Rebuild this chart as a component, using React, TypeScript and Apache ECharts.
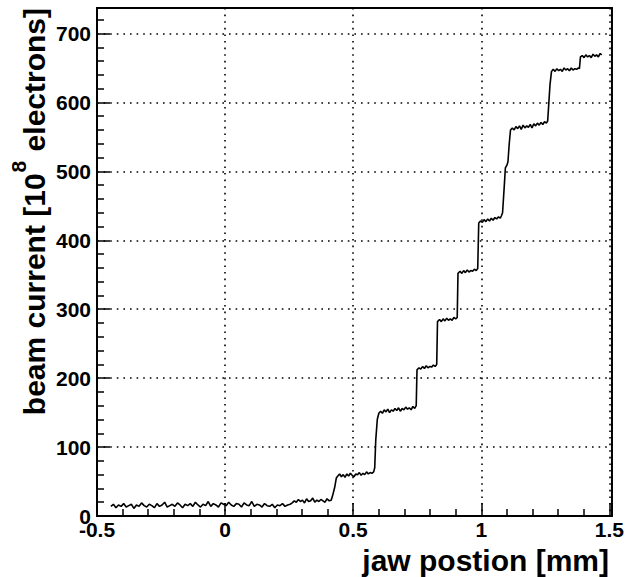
import { useEffect, useRef } from "react";
import * as echarts from "echarts";

// Jaw scan: beam current versus jaw position.
const jawPosition = [
  -0.446, -0.436, -0.426, -0.416, -0.406, -0.396, -0.386, -0.376, -0.366, -0.356,
  -0.346, -0.336, -0.326, -0.316, -0.306, -0.296, -0.286, -0.276, -0.266, -0.256,
  -0.246, -0.236, -0.226, -0.216, -0.206, -0.196, -0.186, -0.176, -0.166, -0.156,
  -0.146, -0.136, -0.126, -0.116, -0.106, -0.096, -0.086, -0.076, -0.066, -0.056,
  -0.046, -0.036, -0.026, -0.016, -0.006, 0.004, 0.014, 0.024, 0.034, 0.044,
  0.054, 0.064, 0.074, 0.084, 0.094, 0.104, 0.114, 0.124, 0.134, 0.144,
  0.154, 0.164, 0.174, 0.184, 0.194, 0.204, 0.214, 0.224, 0.234, 0.244,
  0.254,
  0.262, 0.27, 0.278, 0.286, 0.294, 0.302, 0.31, 0.318, 0.326, 0.334,
  0.342, 0.35, 0.358, 0.366, 0.374, 0.382, 0.39, 0.398, 0.406, 0.414,
  0.42, 0.428, 0.434, 0.44,
  0.447, 0.454, 0.461, 0.468, 0.475, 0.482, 0.489, 0.496, 0.503, 0.51,
  0.517, 0.524, 0.531, 0.538, 0.545, 0.552, 0.559, 0.566, 0.573, 0.58,
  0.584, 0.588, 0.594, 0.6,
  0.607, 0.614, 0.621, 0.628, 0.635, 0.642, 0.649, 0.656, 0.663, 0.67,
  0.677, 0.684, 0.691, 0.698, 0.705, 0.712, 0.719, 0.726, 0.733, 0.74, 0.746,
  0.749,
  0.757, 0.764, 0.771, 0.778, 0.785, 0.792, 0.799, 0.806, 0.813, 0.82, 0.826,
  0.829,
  0.837, 0.844, 0.851, 0.858, 0.865, 0.872, 0.879, 0.886, 0.893, 0.9, 0.906,
  0.909,
  0.917, 0.924, 0.931, 0.938, 0.945, 0.952, 0.959, 0.966, 0.973, 0.98, 0.986,
  0.99,
  0.997, 1.004, 1.011, 1.018, 1.025, 1.032, 1.039, 1.046, 1.053, 1.06, 1.067, 1.074, 1.079,
  1.083, 1.089, 1.094, 1.1, 1.104, 1.109, 1.114,
  1.121, 1.128, 1.135, 1.142, 1.149, 1.156, 1.163, 1.17, 1.177, 1.184,
  1.191, 1.198, 1.205, 1.212, 1.219, 1.226, 1.233, 1.24, 1.247, 1.254, 1.259,
  1.262, 1.268, 1.274,
  1.281, 1.288, 1.295, 1.302, 1.309, 1.316, 1.323, 1.33, 1.337, 1.344,
  1.351, 1.358, 1.365, 1.372, 1.379, 1.383,
  1.387,
  1.394, 1.401, 1.408, 1.415, 1.422, 1.429, 1.436, 1.443, 1.45, 1.457, 1.464, 1.47,
];

// beam current in units of 10^8 electrons
const beamCurrent = [
  14, 17, 12, 16, 14, 18, 13, 15, 17, 11,
  16, 14, 19, 15, 13, 17, 15, 12, 18, 14,
  16, 20, 13, 15, 17, 14, 19, 16, 12, 17,
  15, 18, 14, 20, 16, 13, 17, 15, 21, 14,
  18, 16, 13, 19, 17, 15, 20, 16, 14, 18,
  17, 13, 19, 16, 15, 21, 14, 17, 16, 13,
  18, 15, 14, 17, 12, 16, 15, 18, 14, 16,
  17,
  19, 22, 20, 24, 21, 23, 19, 25, 21, 22,
  26, 20, 23, 21, 24, 22, 20, 25, 22, 23,
  30, 42, 55, 58,
  61, 57, 60, 56, 61, 58, 62, 59, 57, 61,
  60, 63, 59, 62, 60, 64, 61, 63, 62, 64,
  70, 110, 140, 149,
  152, 149, 154, 151, 155, 150, 154, 152, 156, 153,
  157, 152, 156, 154, 158, 155, 157, 154, 159, 156, 160,
  212,
  215, 213, 217, 214, 218, 215, 217, 216, 219, 217, 220,
  282,
  285, 282, 286, 283, 287, 284, 286, 284, 288, 286, 288,
  352,
  355, 352, 356, 353, 357, 354, 356, 355, 358, 356, 359,
  425,
  428, 426, 430, 427, 431, 428, 432, 429, 433, 431, 434, 432, 436,
  440, 475, 505, 509, 514, 540, 560,
  563, 560, 565, 562, 566, 561, 567, 563, 566, 564,
  568, 563, 569, 566, 570, 567, 571, 568, 572, 570, 573,
  590, 625, 645,
  648, 645, 649, 646, 648, 645, 650, 647, 649, 646,
  650, 647, 649, 648, 650, 649,
  666,
  668, 665, 669, 666, 668, 665, 670, 667, 669, 666, 671, 669,
];

const xMin = -0.5;
const xMax = 1.51;
const xStep = 0.5;
const yMin = 0;
const yMax = 737;
const yStep = 100;

const xTitle = "jaw postion [mm]";
const yTitleMain = "beam current [10";
const yTitleSup = "8";
const yTitleTail = " electrons]";

const FONT = "'Liberation Sans', Arial, Helvetica, sans-serif";

export default function App() {
  const ref = useRef<HTMLDivElement>(null);

  useEffect(() => {
    if (!ref.current) return;
    const chart = echarts.init(ref.current, null, { renderer: "svg" });

    const points = jawPosition.map((x, i) => [x, beamCurrent[i]]);

    const axisCommon = {
      axisLine: { show: true, onZero: false, lineStyle: { color: "#000", width: 2 } },
      axisTick: { show: true, inside: true, length: 13, lineStyle: { color: "#000", width: 1.5 } },
      minorTick: { show: true, splitNumber: 5, length: 7, lineStyle: { color: "#000", width: 1.5 } },
      splitLine: { show: true, lineStyle: { color: "#000", width: 1.6, type: [1.6, 5] } },
      minorSplitLine: { show: false },
    };

    chart.setOption({
      animation: false,
      backgroundColor: "#fff",
      grid: {
        left: 97,
        right: 14,
        top: 8,
        bottom: 61,
        show: true,
        borderColor: "#000",
        borderWidth: 2,
        backgroundColor: "transparent",
      },
      xAxis: {
        type: "value",
        min: xMin,
        max: xMax,
        interval: xStep,
        ...axisCommon,
        axisLabel: {
          color: "#000",
          fontFamily: FONT,
          fontWeight: "bold",
          fontSize: 21,
          margin: 3,
          formatter: (v: number) =>
            Math.abs(v / xStep - Math.round(v / xStep)) < 1e-6 ? String(Math.round(v * 10) / 10) : "",
        },
      },
      yAxis: {
        type: "value",
        min: yMin,
        max: yMax,
        interval: yStep,
        ...axisCommon,
        axisLabel: {
          color: "#000",
          fontFamily: FONT,
          fontWeight: "bold",
          fontSize: 21,
          margin: 6,
          formatter: (v: number) => (v % yStep === 0 ? String(v) : ""),
        },
      },
      series: [
        {
          type: "line",
          data: points,
          showSymbol: false,
          symbol: "none",
          lineStyle: { color: "#000", width: 1.6 },
          z: 5,
        },
      ],
      graphic: [
        {
          type: "text",
          x: 609,
          y: 560,
          style: {
            text: xTitle,
            font: `bold 30px ${FONT}`,
            fill: "#000",
            align: "right",
            verticalAlign: "middle",
          },
        },
        {
          type: "text",
          x: 34,
          y: 8,
          rotation: Math.PI / 2,
          style: {
            text: `{m|${yTitleMain}}{s|${yTitleSup}}{m|${yTitleTail}}`,
            fill: "#000",
            align: "right",
            verticalAlign: "middle",
            rich: {
              m: {
                fontFamily: FONT,
                fontWeight: "bold",
                fontSize: 30,
                lineHeight: 31,
                verticalAlign: "bottom",
                fill: "#000",
              },
              s: {
                fontFamily: FONT,
                fontWeight: "bold",
                fontSize: 21,
                lineHeight: 21,
                padding: [0, 1, 21, 1],
                verticalAlign: "bottom",
                fill: "#000",
              },
            },
          },
        },
      ],
    });

    return () => chart.dispose();
  }, []);

  return (
    <div
      ref={ref}
      style={{ position: "absolute", left: 0, top: 0, width: 627, height: 577, background: "#fff" }}
    />
  );
}
